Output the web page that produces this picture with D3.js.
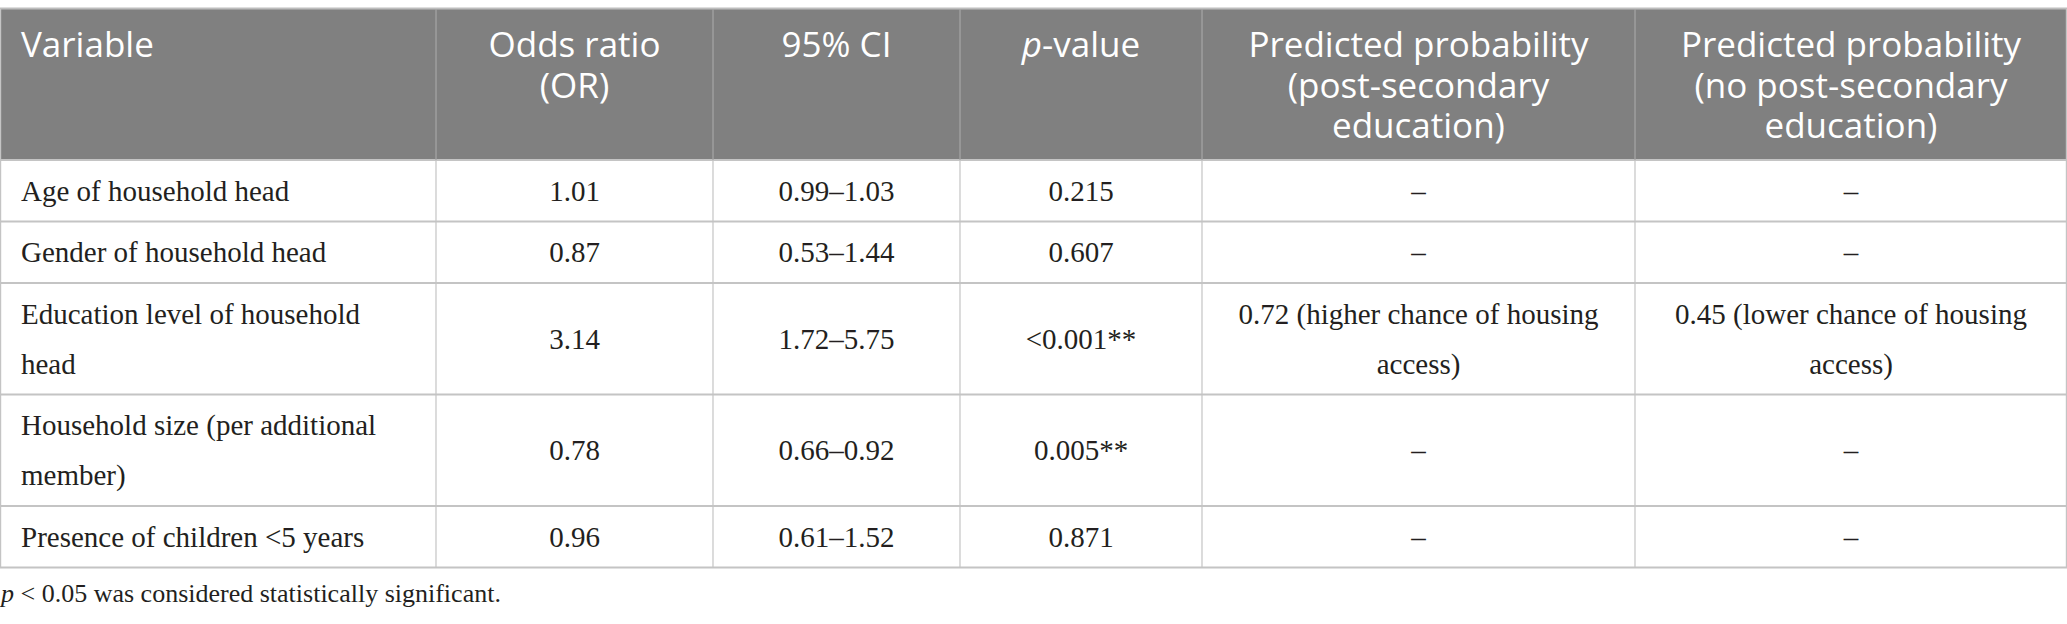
<!DOCTYPE html>
<html>
<head>
<meta charset="utf-8">
<script src="https://cdn.jsdelivr.net/npm/d3@7"></script>
<style>
  body { margin: 0; background: #fff; }
</style>
</head>
<body>
<div id="table"></div>
<script>
// table content
const headers = [
    "Variable",
    "Odds ratio (OR)",
    "95% CI",
    "p-value",
    "Predicted probability (post-secondary education)",
    "Predicted probability (no post-secondary education)"
];
const variables = [
    "Age of household head",
    "Gender of household head",
    "Education level of household head",
    "Household size (per additional member)",
    "Presence of children <5 years"
];
const oddsRatios = ["1.01", "0.87", "3.14", "0.78", "0.96"];
const ci95 = ["0.99–1.03", "0.53–1.44", "1.72–5.75", "0.66–0.92", "0.61–1.52"];
const pValues = ["0.215", "0.607", "<0.001**", "0.005**", "0.871"];
const probPostSecondary = ["–", "–", "0.72 (higher chance of housing access)", "–", "–"];
const probNoPostSecondary = ["–", "–", "0.45 (lower chance of housing access)", "–", "–"];
const footnote = "p < 0.05 was considered statistically significant.";

const width = 2067;
const height = 624;

// column edges in px
const colEdges = [0, 436, 713, 960, 1202, 1635, 2067];
const pad = 21;

const headFont = "35px 'Open Sans'";
const bodyFont = "29px 'Liberation Serif'";

const svg = d3.select("#table")
    .append("svg")
    .attr("width", width)
    .attr("height", height);

const x = d3.scaleOrdinal().domain(d3.range(6)).range(colEdges.slice(0, 6));
const colW = i => colEdges[i + 1] - colEdges[i];
const textX = i => i === 0 ? x(i) + pad : x(i) + colW(i) / 2;
const anchor = i => i === 0 ? "start" : "middle";

// measuring canvas for wrapping
const ctx = document.createElement("canvas").getContext("2d");
function wrap(text, font, maxW) {
    ctx.font = font;
    const words = text.split(" ");
    const lines = [];
    let cur = "";
    words.forEach(w => {
        const test = cur ? cur + " " + w : w;
        if (cur && ctx.measureText(test).width > maxW) {
            lines.push(cur);
            cur = w;
        } else {
            cur = test;
        }
    });
    lines.push(cur);
    return lines;
}

// one tspan per line; a leading "p" goes in italics
function writeLines(textSel, lines, xPos, lh) {
    lines.forEach((ln, j) => {
        const ts = textSel.append("tspan")
            .attr("x", xPos)
            .attr("dy", j === 0 ? 0 : lh);
        const m = ln.match(/^p(?=[-\s])/);
        if (m) {
            ts.append("tspan").attr("font-style", "italic").text("p");
            ts.append("tspan").text(ln.slice(1));
        } else {
            ts.text(ln);
        }
    });
}

const rows = variables.map((v, i) => [v, oddsRatios[i], ci95[i], pValues[i], probPostSecondary[i], probNoPostSecondary[i]]);

// header
const headTop = 9, headBottom = 160;
const headLine = 40.5;

svg.append("rect")
    .attr("x", 0).attr("y", headTop)
    .attr("width", width).attr("height", headBottom - headTop)
    .attr("fill", "#808080");

headers.forEach((h, i) => {
    const lines = wrap(h, headFont, colW(i) - 2 * pad - 18);
    const t = svg.append("text")
        .attr("x", textX(i))
        .attr("y", headTop + 48)
        .attr("text-anchor", anchor(i))
        .attr("font-family", "'Open Sans', 'Noto Sans', sans-serif")
        .attr("font-size", 35)
        .attr("fill", "#fff");
    writeLines(t, lines, textX(i), headLine);
});

// body rows
const lineH = 50;
let yPos = headBottom;
const rowBounds = [headBottom];
rows.forEach(r => {
    const wrapped = r.map((c, i) => wrap(c, bodyFont, colW(i) - 2 * pad - 18));
    const n = d3.max(wrapped, d => d.length);
    const rh = 11.5 + lineH * n;
    const cy = yPos + rh / 2;
    wrapped.forEach((lines, i) => {
        const t = svg.append("text")
            .attr("x", textX(i))
            .attr("y", cy - (lines.length - 1) * lineH / 2 + 10)
            .attr("text-anchor", anchor(i))
            .attr("font-family", "'Liberation Serif', serif")
            .attr("font-size", 29)
            .attr("fill", "#231f20");
        writeLines(t, lines, textX(i), lineH);
    });
    yPos += rh;
    rowBounds.push(yPos);
});

// grid lines
svg.append("line")
    .attr("x1", 0).attr("x2", width)
    .attr("y1", headTop - 0.5).attr("y2", headTop - 0.5)
    .attr("stroke", "#bdbdbd").attr("stroke-width", 2);

svg.selectAll(".hline")
    .data(rowBounds)
    .enter()
    .append("line")
    .attr("x1", 0).attr("x2", width)
    .attr("y1", d => d).attr("y2", d => d)
    .attr("stroke", "#c4c4c4")
    .attr("stroke-width", 2);

colEdges.slice(1, 6).forEach(e => {
    svg.append("line")
        .attr("x1", e).attr("x2", e)
        .attr("y1", headTop).attr("y2", headBottom)
        .attr("stroke", "#a6a6a6").attr("stroke-width", 1.2);
    svg.append("line")
        .attr("x1", e).attr("x2", e)
        .attr("y1", headBottom).attr("y2", yPos)
        .attr("stroke", "#c4c4c4").attr("stroke-width", 1.2);
});
[0.6, width - 0.6].forEach(e => {
    svg.append("line")
        .attr("x1", e).attr("x2", e)
        .attr("y1", headTop).attr("y2", yPos)
        .attr("stroke", "#c4c4c4").attr("stroke-width", 1.2);
});

// footnote
const fn = svg.append("text")
    .attr("x", 1)
    .attr("y", yPos + 34)
    .attr("font-family", "'Liberation Serif', serif")
    .attr("font-size", 26)
    .attr("fill", "#231f20");
writeLines(fn, [footnote], 1, 0);
</script>
</body>
</html>
